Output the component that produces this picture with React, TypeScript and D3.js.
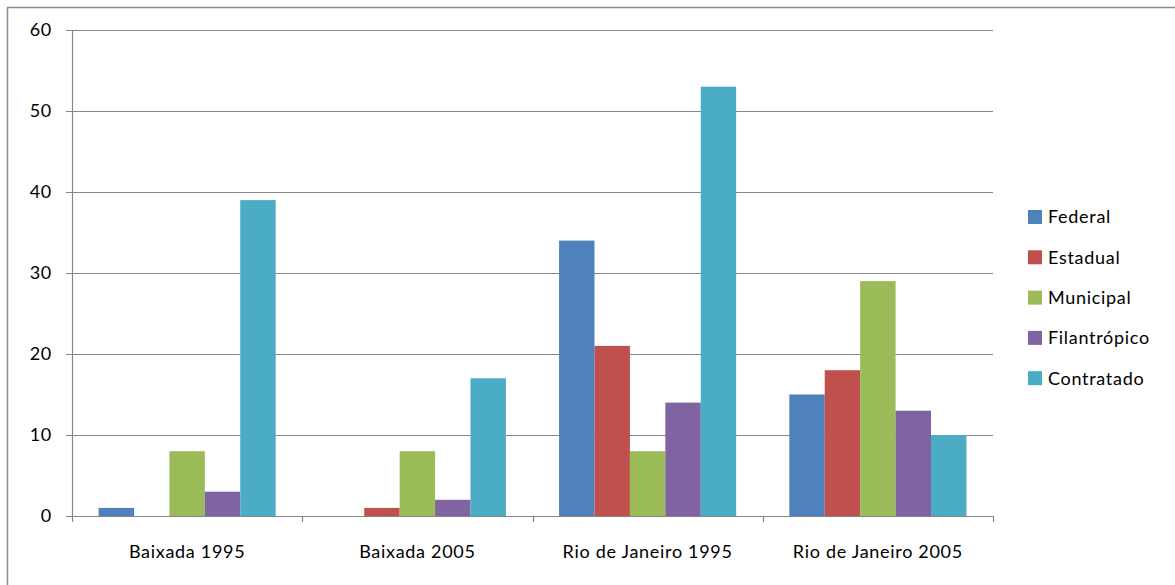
import React from "react";
import * as d3 from "d3";

const categories = ["Baixada 1995", "Baixada 2005", "Rio de Janeiro 1995", "Rio de Janeiro 2005"];
const seriesNames = ["Federal", "Estadual", "Municipal", "Filantrópico", "Contratado"];
const federal = [1, 0, 34, 15];
const estadual = [0, 1, 21, 18];
const municipal = [8, 8, 8, 29];
const filantropico = [3, 2, 14, 13];
const contratado = [39, 17, 53, 10];
const seriesValues = [federal, estadual, municipal, filantropico, contratado];
const colors = ["#4F81BD", "#C0504D", "#9BBB59", "#8064A2", "#4BACC6"];
const yTicks = [0, 10, 20, 30, 40, 50, 60];

const W = 1175, H = 585;
const L = 72, R = 993, T = 30, B = 516;
const FONT = "Lato, 'Open Sans', sans-serif";
const FS = 18;
const LS = 0.7;

export default function App() {
  const x0 = d3.scaleBand<string>().domain(categories).range([L, R]).padding(0);
  const bw = x0.bandwidth();
  const gap = bw * 1.5 / 6.5;
  const x1 = d3.scaleBand<number>().domain(d3.range(seriesNames.length)).range([gap / 2, bw - gap / 2]).padding(0);
  const y = d3.scaleLinear().domain([0, 60]).range([B, T]);
  const grid = "#868686";
  return (
    <svg width={W} height={H} style={{ position: "absolute", left: 0, top: 0 }} fontFamily={FONT}>
      <rect x={0} y={0} width={W} height={H} fill="#fff" />
      <rect x={7.5} y={7.5} width={1300} height={700} fill="none" stroke="#8c8c8c" strokeWidth={1.5} />
      {yTicks.map((t) => (
        <g key={t}>
          <line x1={66} x2={R} y1={Math.round(y(t)) + 0.5} y2={Math.round(y(t)) + 0.5} stroke={grid} strokeWidth={1.2} />
          <text x={52} y={y(t)} dy="0.35em" textAnchor="end" fontSize={FS} letterSpacing={LS} fill="#000">{t}</text>
        </g>
      ))}
      {seriesValues.map((vals, si) =>
        vals.map((v, ci) =>
          v > 0 ? (
            <rect key={`${si}-${ci}`} x={x0(categories[ci])! + x1(si)!} y={y(v)} width={x1.bandwidth()} height={B - y(v)} fill={colors[si]} />
          ) : null
        )
      )}
      <line x1={L + 0.5} x2={L + 0.5} y1={T} y2={B} stroke={grid} strokeWidth={1.2} />
      <line x1={66} x2={R} y1={B + 0.5} y2={B + 0.5} stroke={grid} strokeWidth={1.2} />
      {[...categories.map((c) => x0(c)!), R].map((xv, i) => (
        <line key={i} x1={Math.round(xv) + 0.5} x2={Math.round(xv) + 0.5} y1={B} y2={B + 6} stroke={grid} strokeWidth={1.2} />
      ))}
      {categories.map((c) => (
        <text key={c} x={x0(c)! + bw / 2} y={552} dy="0.35em" textAnchor="middle" fontSize={FS} letterSpacing={LS} fill="#000">{c}</text>
      ))}
      {seriesNames.map((n, i) => (
        <g key={n} transform={`translate(1028, ${217 + i * 40.3})`}>
          <rect x={0} y={-7} width={14} height={14} fill={colors[i]} />
          <text x={20} y={0} dy="0.35em" fontSize={FS} letterSpacing={LS} fill="#000">{n}</text>
        </g>
      ))}
    </svg>
  );
}
